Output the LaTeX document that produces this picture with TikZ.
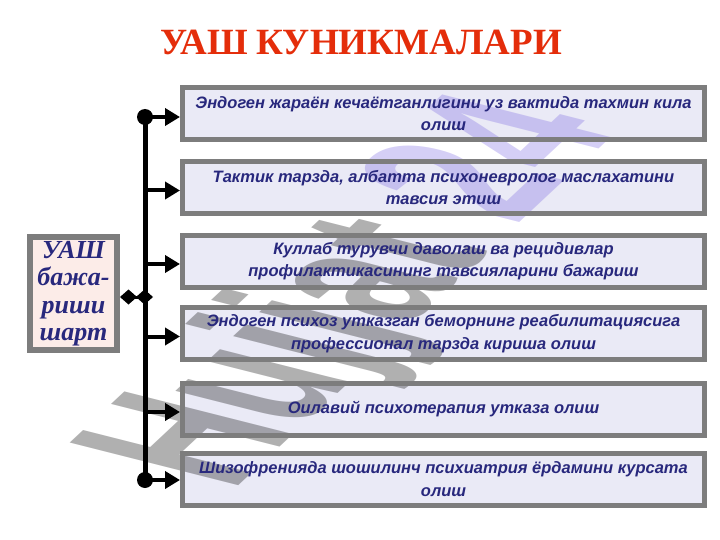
\documentclass[tikz,border=0pt]{standalone}
\usepackage{fontspec}
\setmainfont{Liberation Serif}
\setsansfont{Liberation Sans}
\usetikzlibrary{arrows.meta}
\pgfdeclarelayer{background}
\pgfdeclarelayer{wm}
\pgfsetlayers{background,wm,main}
\definecolor{titlered}{RGB}{228,45,10}
\definecolor{navy}{RGB}{40,40,125}
\definecolor{boxfill}{RGB}{234,234,246}
\definecolor{boxline}{RGB}{125,125,125}
\definecolor{pinkfill}{RGB}{252,236,232}
\definecolor{wmpurple}{RGB}{120,100,225}
\tikzset{
  itembox/.style={draw=boxline, line width=5pt, minimum width=522pt, minimum height=52pt,
    inner sep=0pt, align=center, text=navy,
    font=\sffamily\bfseries\itshape\fontsize{16.5}{22.5}\selectfont},
  leftbox/.style={draw=boxline, line width=6pt, minimum width=87pt, minimum height=113pt,
    inner sep=0pt, align=center, text=navy,
    font=\bfseries\itshape\fontsize{26}{27.5}\selectfont},
  dot/.style={circle, fill=black, minimum size=16pt, inner sep=0pt},
  arr/.style={line width=4pt, -{Triangle[length=15pt,width=17pt]}},
  bus/.style={line width=5pt},
  dia/.style={line width=3pt, {Diamond[length=17pt,width=15pt]}-{Diamond[length=17pt,width=15pt]}}
}
\begin{document}
\begin{tikzpicture}[x=1pt,y=-1pt]
\useasboundingbox (0,0) rectangle (720,540);

\node[font=\bfseries\fontsize{37}{40}\selectfont, text=titlered] (title) at (361,42) {УАШ КУНИКМАЛАРИ};

\node[leftbox] (lb) at (73.5,293.5) {УАШ\\бажа-\\риши\\шарт};

\node[itembox] (b1) at (443.5,113.5) {Эндоген жараён кечаётганлигини уз вактида тахмин кила\\олиш};
\node[itembox] (b2) at (443.5,187.5) {Тактик тарзда, албатта психоневролог маслахатини\\тавсия этиш};
\node[itembox] (b3) at (443.5,261) {Куллаб турувчи даволаш ва рецидивлар\\профилактикасининг тавсияларини бажариш};
\node[itembox] (b4) at (443.5,333.5) {Эндоген психоз утказган беморнинг реабилитациясига\\профессионал тарзда кириша олиш};
\node[itembox] (b5) at (443.5,409) {Оилавий психотерапия утказа олиш};
\node[itembox] (b6) at (443.5,479) {Шизофренияда шошилинч психиатрия ёрдамини курсата\\олиш};

\begin{pgfonlayer}{background}
  \foreach \b in {b1,b2,b3,b4,b5,b6}{\fill[boxfill] (\b.north west) rectangle (\b.south east);}
  \fill[pinkfill] (lb.north west) rectangle (lb.south east);
\end{pgfonlayer}

\node[dot] (d1) at (145,117) {};
\node[dot] (d6) at (145,480) {};
\coordinate (j2) at (145,190.5);
\coordinate (j3) at (145,264);
\coordinate (j4) at (145,336.5);
\coordinate (j5) at (145,412);
\coordinate (dj) at (153,297);

\draw[bus] (d1.center) -- (d6.center);
\draw[arr] (d1.center) -- (d1.center -| b1.west);
\draw[arr] (j2) -- (j2 -| b2.west);
\draw[arr] (j3) -- (j3 -| b3.west);
\draw[arr] (j4) -- (j4 -| b4.west);
\draw[arr] (j5) -- (j5 -| b5.west);
\draw[arr] (d6.center) -- (d6.center -| b6.west);
\draw[dia] (lb.east |- dj) -- (dj);

\begin{pgfonlayer}{wm}
\begin{scope}[shift={(232,492)}, cm={0.93,0.87,-2.45,0.62,(0,0)}]
\node[anchor=base west, inner sep=0pt, transform shape, text opacity=0.31,
  font=\sffamily\bfseries\fontsize{100}{100}\selectfont] (wmark) at (0,0)
  {\textcolor{black}{Hujjat} \textcolor{wmpurple}{24}};
\end{scope}
\end{pgfonlayer}
\end{tikzpicture}
\end{document}
